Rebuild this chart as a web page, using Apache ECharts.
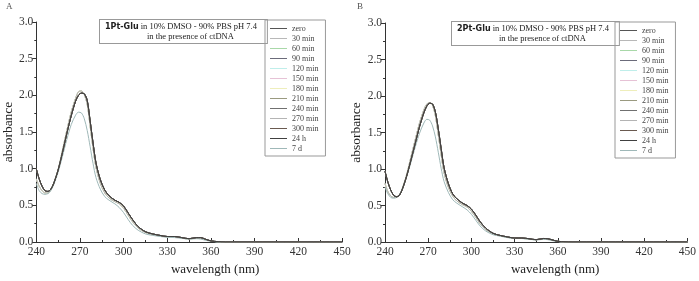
<!DOCTYPE html>
<html>
<head>
<meta charset="utf-8">
<script src="https://cdn.jsdelivr.net/npm/echarts@6/dist/echarts.min.js"></script>
<style>
  html, body { margin: 0; padding: 0; background: #fff; }
  #chart { width: 699px; height: 281px; }
</style>
</head>
<body>
<div id="chart"></div>
<script>
// wavelengths (nm) sampled along the curves
const wavelengths = [240,242,244,246,248,250,252,255,258,261,264,267,269,271,273,275,277,279,281,284,287,290,294,297,300,303,306,310,315,320,325,330,335,340,345,350,353,356,360,365,370,380,400,450];

// panel A (1Pt-Glu) read-off curves
const aDark = [1.00,0.86,0.76,0.70,0.69,0.72,0.80,0.98,1.22,1.48,1.72,1.92,2.00,2.03,2.02,1.93,1.65,1.35,1.08,0.85,0.71,0.63,0.57,0.54,0.49,0.40,0.31,0.21,0.14,0.11,0.09,0.075,0.075,0.06,0.045,0.06,0.06,0.04,0.015,0.005,0,0,0,0];
const aLight = [0.86,0.76,0.70,0.67,0.67,0.71,0.80,0.99,1.25,1.52,1.77,1.96,2.05,2.06,2.01,1.88,1.58,1.28,1.02,0.80,0.67,0.60,0.55,0.52,0.46,0.37,0.28,0.19,0.13,0.10,0.085,0.07,0.07,0.055,0.04,0.055,0.055,0.035,0.012,0.003,0,0,0,0];
const aLow = [0.80,0.70,0.66,0.65,0.66,0.70,0.78,0.95,1.17,1.40,1.60,1.73,1.77,1.76,1.68,1.52,1.30,1.07,0.88,0.72,0.62,0.57,0.52,0.47,0.40,0.31,0.23,0.16,0.11,0.09,0.075,0.065,0.06,0.05,0.04,0.045,0.04,0.025,0.01,0,0,0,0,0];

// panel B (2Pt-Glu) read-off curves
const bDark = [0.97,0.82,0.71,0.64,0.62,0.64,0.72,0.90,1.12,1.35,1.58,1.77,1.86,1.90,1.89,1.78,1.55,1.28,1.02,0.80,0.66,0.59,0.53,0.50,0.45,0.37,0.28,0.19,0.12,0.09,0.07,0.055,0.055,0.045,0.032,0.048,0.045,0.03,0.01,0.002,0,0,0,0];
const bLight = [0.80,0.69,0.63,0.61,0.61,0.64,0.73,0.92,1.16,1.40,1.63,1.81,1.89,1.91,1.87,1.73,1.47,1.20,0.95,0.75,0.63,0.56,0.51,0.48,0.42,0.34,0.25,0.17,0.11,0.085,0.065,0.05,0.05,0.04,0.03,0.042,0.04,0.025,0.008,0,0,0,0,0];
const bLow = [0.75,0.66,0.61,0.60,0.61,0.65,0.73,0.89,1.09,1.30,1.49,1.63,1.68,1.67,1.59,1.44,1.23,1.01,0.83,0.68,0.58,0.53,0.48,0.44,0.38,0.30,0.22,0.15,0.10,0.08,0.06,0.05,0.048,0.038,0.028,0.036,0.032,0.02,0.005,0,0,0,0,0];

const seriesNames = ['zero','30 min','60 min','90 min','120 min','150 min','180 min','210 min','240 min','270 min','300 min','24 h','7 d'];
const seriesColors = ['#555555','#b8b8b8','#a8d8a8','#6b6b7a','#bfeeea','#e6c2d6','#eeeebb','#9a9a80','#707070','#b4b4b4','#6a5a50','#404040','#9fb8b8'];
const leftCurves = [aDark,aLight,aLight,aDark,aLight,aLight,aLight,aDark,aDark,aLight,aDark,aDark,aLow];
const rightCurves = [bDark,bLight,bLight,bDark,bLight,bLight,bLight,bDark,bDark,bLight,bDark,bDark,bLow];

const xTicks = { min: 240, max: 450, interval: 30 };
const yTicks = { min: 0, max: 3, interval: 0.5 };

const serif = '"Liberation Serif", "DejaVu Serif", serif';
const axisColor = '#333';

const makeX = (gridIndex, shift) => ({
  type: 'value', gridIndex,
  min: xTicks.min, max: xTicks.max, interval: xTicks.interval,
  name: 'wavelength (nm)', nameLocation: 'middle', nameGap: 21,
  nameTextStyle: { fontFamily: serif, fontSize: 13, color: '#222', padding: [0, 0, 0, shift] },
  axisLine: { lineStyle: { color: axisColor, width: 1 } },
  axisTick: { inside: true, length: 4, lineStyle: { color: axisColor } },
  minorTick: { show: true, splitNumber: 2, length: 2, lineStyle: { color: axisColor } },
  axisLabel: { fontFamily: serif, fontSize: 11.5, color: '#333', margin: 4 },
  splitLine: { show: false }
});
const makeY = (gridIndex) => ({
  type: 'value', gridIndex,
  min: yTicks.min, max: yTicks.max, interval: yTicks.interval,
  name: 'absorbance', nameLocation: 'middle', nameGap: 20,
  nameTextStyle: { fontFamily: serif, fontSize: 13.5, color: '#222' },
  axisLine: { show: true, lineStyle: { color: axisColor, width: 1 } },
  axisTick: { show: true, length: 4, lineStyle: { color: axisColor } },
  minorTick: { show: true, splitNumber: 2, length: 2, lineStyle: { color: axisColor } },
  axisLabel: { fontFamily: serif, fontSize: 11.5, color: '#333', margin: 3, formatter: v => v.toFixed(1) },
  splitLine: { show: false }
});

const makeSeries = (curves, idx) => curves.map((vals, i) => ({
  name: seriesNames[i],
  type: 'line',
  xAxisIndex: idx, yAxisIndex: idx,
  data: wavelengths.map((w, k) => [w, vals[k]]),
  smooth: 0.3,
  symbol: 'none',
  z: curves[i] === aDark || curves[i] === bDark ? 4 : 3,
  lineStyle: { width: 1, color: seriesColors[i] },
  itemStyle: { color: seriesColors[i] }
}));

const makeLegend = (left, top) => ({
  data: seriesNames, orient: 'vertical', left, top,
  icon: 'rect', itemWidth: 17, itemHeight: 1, itemGap: 1,
  borderColor: '#999', borderWidth: 1, padding: [4, 7, 3, 5],
  textStyle: { fontFamily: serif, fontSize: 8, color: '#444', lineHeight: 9 },
  selectedMode: false
});

const titleBox = (x, y, lead) => ({
  type: 'text', x, y,
  style: {
    text: '{b|' + lead + '} in 10% DMSO - 90% PBS pH 7.4\n{s|in the presence of ctDNA}',
    textAlign: 'left', textVerticalAlign: 'top',
    font: '8.5px ' + serif, fill: '#222', lineHeight: 10,
    padding: [2, 10, 1, 5], borderColor: '#999', borderWidth: 1, backgroundColor: '#fff',
    rich: {
      b: { fontFamily: '"DejaVu Sans", sans-serif', fontWeight: 'bold', fontSize: 8, fill: '#222', lineHeight: 10 },
      s: { padding: [0, 0, 0, 42], fontFamily: serif, fontSize: 8.5, fill: '#222', lineHeight: 10 }
    }
  }
});

const chart = echarts.init(document.getElementById('chart'));
chart.setOption({
  animation: false,
  backgroundColor: '#fff',
  grid: [
    { left: 34, right: 357, top: 22, bottom: 33 },
    { left: 385, right: 8, top: 23, bottom: 33 }
  ],
  xAxis: [makeX(0, 52), makeX(1, 38)],
  yAxis: [makeY(0), makeY(1)],
  legend: [makeLegend(265, 20), makeLegend(615, 22)],
  graphic: [
    { type: 'text', x: 6, y: 2, style: { text: 'A', font: '9px ' + serif, fill: '#555' } },
    { type: 'text', x: 357, y: 2, style: { text: 'B', font: '9px ' + serif, fill: '#555' } },
    titleBox(100, 20, '1Pt-Glu'),
    titleBox(452, 22, '2Pt-Glu')
  ],
  series: [...makeSeries(leftCurves, 0), ...makeSeries(rightCurves, 1)]
});
</script>
</body>
</html>
